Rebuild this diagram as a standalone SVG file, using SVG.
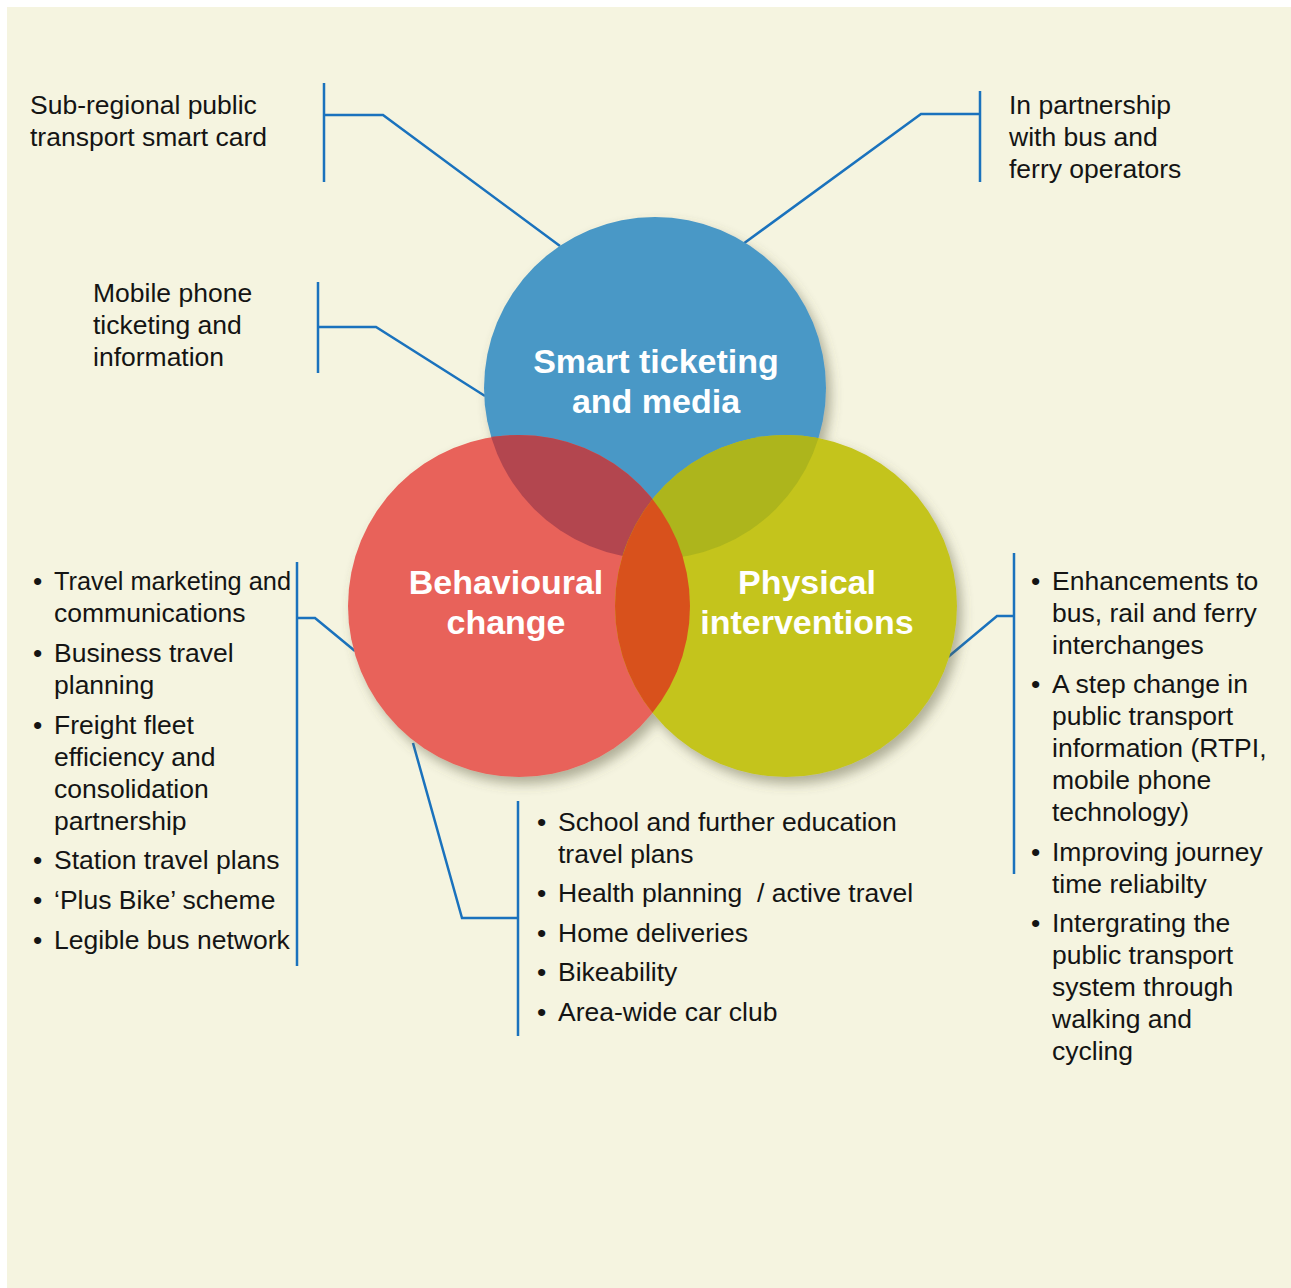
<svg xmlns="http://www.w3.org/2000/svg" width="1291" height="1288" viewBox="0 0 1291 1288">
<style>
.t{font-family:"Liberation Sans",Arial,Helvetica,sans-serif;font-size:26.5px;fill:#141414}
.h{font-family:"Liberation Sans",Arial,Helvetica,sans-serif;font-size:34px;font-weight:bold;fill:#ffffff;text-anchor:middle}
.c{fill:none;stroke:#1a72bd;stroke-width:2.5;stroke-linejoin:miter}
</style>
<defs>
<filter id="sh" x="-20%" y="-20%" width="140%" height="140%">
<feDropShadow dx="5" dy="7" stdDeviation="6" flood-color="#5c5b40" flood-opacity="0.45"/>
</filter>
<clipPath id="cb"><circle cx="655" cy="388" r="171"/></clipPath>
<clipPath id="cr"><circle cx="519" cy="606" r="171"/></clipPath>
</defs>
<rect x="0" y="0" width="1291" height="1288" fill="#ffffff"/>
<rect x="7" y="7" width="1284" height="1281" fill="#f5f4e0"/>

<g id="connectors">
<path class="c" d="M324 83V182M324 115H383L560 246"/>
<path class="c" d="M980 91V182M980 114H921L743 244"/>
<path class="c" d="M318 282V373M318 327H376L485 396"/>
<path class="c" d="M297 562V966M297 618H315L355 651"/>
<path class="c" d="M518 801V1036M518 918H462L413 743"/>
<path class="c" d="M1014 553V874M1014 616H997L948 657"/>
</g>

<g id="circles">
<g filter="url(#sh)">
<circle cx="655" cy="388" r="171" fill="#4a98c6"/>
<circle cx="519" cy="606" r="171" fill="#e8625a"/>
<circle cx="786" cy="606" r="171" fill="#c4c41f"/>
</g>
<circle cx="519" cy="606" r="171" fill="#b3464f" clip-path="url(#cb)"/>
<circle cx="786" cy="606" r="171" fill="#adb51c" clip-path="url(#cb)"/>
<circle cx="786" cy="606" r="171" fill="#d8511c" clip-path="url(#cr)"/>
</g>

<g id="node-smart">
<text class="h" x="656" y="373">Smart ticketing</text>
<text class="h" x="656" y="413">and media</text>
</g>
<g id="node-behavioural">
<text class="h" x="506" y="594">Behavioural</text>
<text class="h" x="506" y="634">change</text>
</g>
<g id="node-physical">
<text class="h" x="807" y="594">Physical</text>
<text class="h" x="807" y="634">interventions</text>
</g>

<g id="label-smartcard">
<text class="t" x="30" y="114">Sub-regional public</text>
<text class="t" x="30" y="146">transport smart card</text>
</g>
<g id="label-partnership">
<text class="t" x="1009" y="114">In partnership</text>
<text class="t" x="1009" y="146">with bus and</text>
<text class="t" x="1009" y="178">ferry operators</text>
</g>
<g id="label-mobile">
<text class="t" x="93" y="302">Mobile phone</text>
<text class="t" x="93" y="334">ticketing and</text>
<text class="t" x="93" y="366">information</text>
</g>

<g id="list-behavioural">
<text class="t" x="33" y="590">•</text><text class="t" x="54" y="590" textLength="237" lengthAdjust="spacingAndGlyphs">Travel marketing and</text>
<text class="t" x="54" y="622">communications</text>
<text class="t" x="33" y="662">•</text><text class="t" x="54" y="662">Business travel</text>
<text class="t" x="54" y="694">planning</text>
<text class="t" x="33" y="734">•</text><text class="t" x="54" y="734">Freight fleet</text>
<text class="t" x="54" y="766">efficiency and</text>
<text class="t" x="54" y="798">consolidation</text>
<text class="t" x="54" y="830">partnership</text>
<text class="t" x="33" y="869">•</text><text class="t" x="54" y="869">Station travel plans</text>
<text class="t" x="33" y="909">•</text><text class="t" x="54" y="909">‘Plus Bike’ scheme</text>
<text class="t" x="33" y="949">•</text><text class="t" x="54" y="949">Legible bus network</text>
</g>

<g id="list-bottom">
<text class="t" x="537" y="831">•</text><text class="t" x="558" y="831">School and further education</text>
<text class="t" x="558" y="863">travel plans</text>
<text class="t" x="537" y="902">•</text><text class="t" x="558" y="902">Health planning</text><text class="t" x="757" y="902">/ active travel</text>
<text class="t" x="537" y="942">•</text><text class="t" x="558" y="942">Home deliveries</text>
<text class="t" x="537" y="981">•</text><text class="t" x="558" y="981">Bikeability</text>
<text class="t" x="537" y="1021">•</text><text class="t" x="558" y="1021">Area-wide car club</text>
</g>

<g id="list-physical">
<text class="t" x="1031" y="590">•</text><text class="t" x="1052" y="590">Enhancements to</text>
<text class="t" x="1052" y="622">bus, rail and ferry</text>
<text class="t" x="1052" y="654">interchanges</text>
<text class="t" x="1031" y="693">•</text><text class="t" x="1052" y="693">A step change in</text>
<text class="t" x="1052" y="725">public transport</text>
<text class="t" x="1052" y="757">information (RTPI,</text>
<text class="t" x="1052" y="789">mobile phone</text>
<text class="t" x="1052" y="821">technology)</text>
<text class="t" x="1031" y="861">•</text><text class="t" x="1052" y="861">Improving journey</text>
<text class="t" x="1052" y="893">time reliabilty</text>
<text class="t" x="1031" y="932">•</text><text class="t" x="1052" y="932">Intergrating the</text>
<text class="t" x="1052" y="964">public transport</text>
<text class="t" x="1052" y="996">system through</text>
<text class="t" x="1052" y="1028">walking and</text>
<text class="t" x="1052" y="1060">cycling</text>
</g>
</svg>
